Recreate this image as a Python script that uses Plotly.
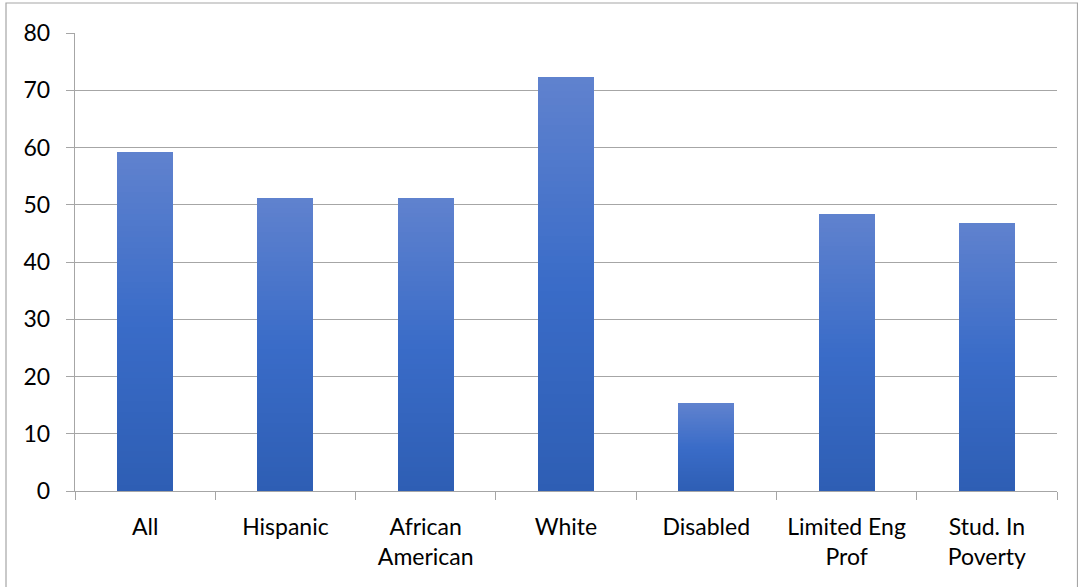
import plotly.graph_objects as go

categories = ["All", "Hispanic", "African<br>American", "White", "Disabled", "Limited Eng<br>Prof", "Stud. In<br>Poverty"]
values = [59.2, 51.2, 51.2, 72.3, 15.4, 48.4, 46.8]
y_ticks = [0, 10, 20, 30, 40, 50, 60, 70, 80]

# gradient stops (top -> middle -> bottom)
top_c = (96, 130, 206)
mid_c = (58, 108, 200)
bot_c = (46, 94, 180)

def lerp(a, b, t):
    return tuple(round(a[i] + (b[i] - a[i]) * t) for i in range(3))

def grad(t):  # t=0 bottom, t=1 top
    if t < 0.5:
        return lerp(bot_c, mid_c, t / 0.5)
    return lerp(mid_c, top_c, (t - 0.5) / 0.5)

N = 60
fig = go.Figure()
for k in range(N):
    c = grad((k + 0.5) / N)
    fig.add_trace(go.Bar(
        x=categories,
        y=[v / N for v in values],
        marker=dict(color="rgb(%d,%d,%d)" % c, line=dict(width=0)),
        showlegend=False,
        hoverinfo="skip",
    ))

W, H = 1078, 587
ml, mr, mt, mb = 75, 21, 33, 96
pw, ph = W - ml - mr, H - mt - mb

fig.update_layout(
    width=W, height=H,
    margin=dict(l=ml, r=mr, t=mt, b=mb, pad=0),
    barmode="stack",
    bargap=0.6,
    plot_bgcolor="white",
    paper_bgcolor="white",
    font=dict(family="Lato, Open Sans, sans-serif", size=23, color="#000000"),
    shapes=[dict(
        type="rect", xref="paper", yref="paper",
        x0=(6 - ml) / pw, x1=(1077.5 - ml) / pw,
        y0=(H - mb - 590) / ph, y1=(H - mb - 3) / ph,
        line=dict(color="#a6a6a6", width=1.2), fillcolor="rgba(0,0,0,0)", layer="below",
    )],
)
fig.update_xaxes(
    type="category",
    tickson="boundaries",
    ticks="outside", ticklen=8, tickcolor="#a6a6a6", tickwidth=1.4,
    showline=True, linecolor="#a6a6a6", linewidth=1.4,
    showgrid=False,
    ticklabelstandoff=15,
    tickfont=dict(size=23),
)
fig.update_yaxes(
    range=[0, 80],
    tickvals=y_ticks,
    ticks="outside", ticklen=8, tickcolor="#a6a6a6", tickwidth=1.4,
    showline=True, linecolor="#a6a6a6", linewidth=1.4,
    showgrid=True, gridcolor="#a6a6a6", gridwidth=1.4,
    zeroline=False,
    ticklabelstandoff=11,
    tickfont=dict(size=23),
)

fig.write_html("out.html", config={"displayModeBar": False},
               post_script="document.body.style.margin='0';")
